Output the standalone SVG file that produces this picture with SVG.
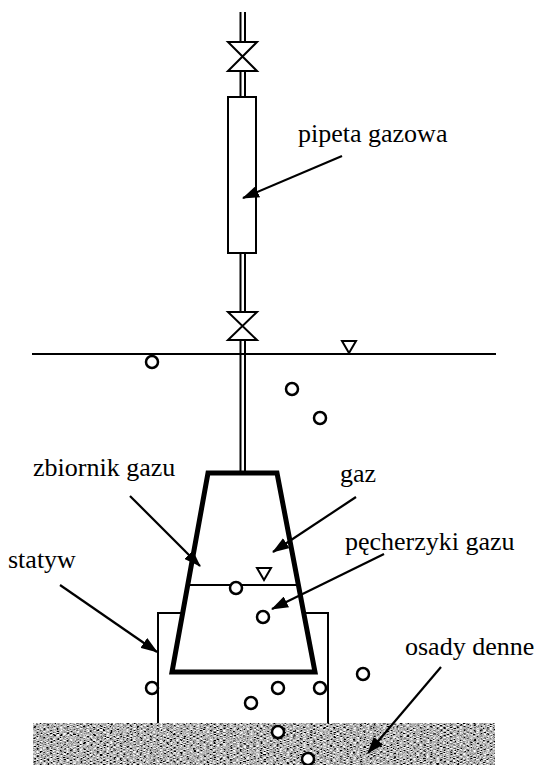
<svg xmlns="http://www.w3.org/2000/svg" width="536" height="765" viewBox="0 0 536 765">
  <style>
    .thin { fill: none; stroke: #000; stroke-width: 2; }
    .thick { fill: none; stroke: #000; stroke-width: 5; stroke-linejoin: miter; }
    .bubble { fill: #fff; stroke: #000; stroke-width: 2.5; }
    .lead { fill: none; stroke: #000; stroke-width: 2.2; marker-end: url(#arrow); }
    .label { font-family: "Liberation Serif", "Times New Roman", serif; font-size: 26px; fill: #000; }
  </style>
  <defs>
    <marker id="arrow" markerUnits="userSpaceOnUse" markerWidth="17" markerHeight="12" viewBox="0 0 17 12" refX="16" refY="6" orient="auto">
      <path d="M0,0 L17,6 L0,12 Z" fill="#000"/>
    </marker>
    <filter id="grain" x="0" y="0" width="100%" height="100%">
      <feTurbulence type="fractalNoise" baseFrequency="0.3 1.0" numOctaves="3" seed="7" result="noise"/>
      <feColorMatrix in="noise" type="matrix" values="2.6 0 0 0 -0.85  2.6 0 0 0 -0.85  2.6 0 0 0 -0.85  0 0 0 0 1" result="grey"/>
      <feComposite in="grey" in2="SourceGraphic" operator="in"/>
    </filter>
  </defs>

  <rect width="536" height="765" fill="#fff"/>

  <!-- bottom sediment -->
  <g id="sediment">
    <rect x="33" y="723" width="462" height="42" fill="#777" filter="url(#grain)"/>
  </g>

  <!-- water surface -->
  <g id="water-surface">
    <line class="thin" x1="32" y1="354" x2="496" y2="354"/>
    <path class="thin" d="M342,341 L356,341 L349,353 Z"/>
  </g>

  <!-- supply tube -->
  <g id="tube">
    <line class="thin" x1="240.5" y1="12" x2="240.5" y2="42"/>
    <line class="thin" x1="245" y1="12" x2="245" y2="42"/>
    <line class="thin" x1="240.5" y1="71" x2="240.5" y2="97"/>
    <line class="thin" x1="245" y1="71" x2="245" y2="97"/>
    <line class="thin" x1="240.5" y1="253" x2="240.5" y2="312"/>
    <line class="thin" x1="245" y1="253" x2="245" y2="312"/>
    <line class="thin" x1="240.5" y1="340" x2="240.5" y2="473"/>
    <line class="thin" x1="245" y1="340" x2="245" y2="473"/>
  </g>

  <!-- valves -->
  <g id="valve-top">
    <path class="thin" d="M228,42 L257,42 L228,71 L257,71 Z"/>
  </g>
  <g id="valve-bottom">
    <path class="thin" d="M228,312 L257,312 L228,340 L257,340 Z"/>
  </g>

  <!-- gas pipette -->
  <g id="pipette">
    <rect class="thin" x="228" y="97" width="28" height="156" fill="#fff"/>
  </g>

  <!-- stand -->
  <g id="stand">
    <path class="thin" d="M183,613 L158,613 L158,723"/>
    <path class="thin" d="M303,613 L328,613 L328,723"/>
  </g>

  <!-- gas collector (funnel) -->
  <g id="collector">
    <path class="thick" d="M208,473 L277,473 L315,672 L172,672 Z"/>
    <line class="thin" x1="188" y1="585" x2="298" y2="585"/>
    <path class="thin" d="M257,568 L271,568 L264,580 Z"/>
  </g>

  <!-- gas bubbles -->
  <g id="bubbles">
    <circle class="bubble" cx="152" cy="362" r="6"/>
    <circle class="bubble" cx="292" cy="389" r="6"/>
    <circle class="bubble" cx="320" cy="418" r="6"/>
    <circle class="bubble" cx="236" cy="588" r="6"/>
    <circle class="bubble" cx="263" cy="617" r="6"/>
    <circle class="bubble" cx="363" cy="674" r="6"/>
    <circle class="bubble" cx="152" cy="688" r="6"/>
    <circle class="bubble" cx="278" cy="688" r="6"/>
    <circle class="bubble" cx="320" cy="688" r="6"/>
    <circle class="bubble" cx="251" cy="703" r="6"/>
    <circle class="bubble" cx="278" cy="732" r="6"/>
    <circle class="bubble" cx="308" cy="759" r="6"/>
  </g>

  <!-- leader arrows -->
  <g id="connectors">
    <line class="lead" x1="342" y1="156" x2="243" y2="198"/>
    <line class="lead" x1="130" y1="496" x2="200" y2="566"/>
    <line class="lead" x1="356" y1="497" x2="273" y2="552"/>
    <line class="lead" x1="384" y1="554" x2="272" y2="609"/>
    <line class="lead" x1="60" y1="585" x2="157" y2="652"/>
    <line class="lead" x1="441" y1="667" x2="368" y2="753"/>
  </g>

  <!-- labels -->
  <g id="labels">
    <text class="label" x="298" y="142">pipeta gazowa</text>
    <text class="label" x="33" y="476">zbiornik gazu</text>
    <text class="label" x="340" y="482">gaz</text>
    <text class="label" x="345" y="550">pęcherzyki gazu</text>
    <text class="label" x="8" y="568">statyw</text>
    <text class="label" x="405" y="655">osady denne</text>
  </g>
</svg>
